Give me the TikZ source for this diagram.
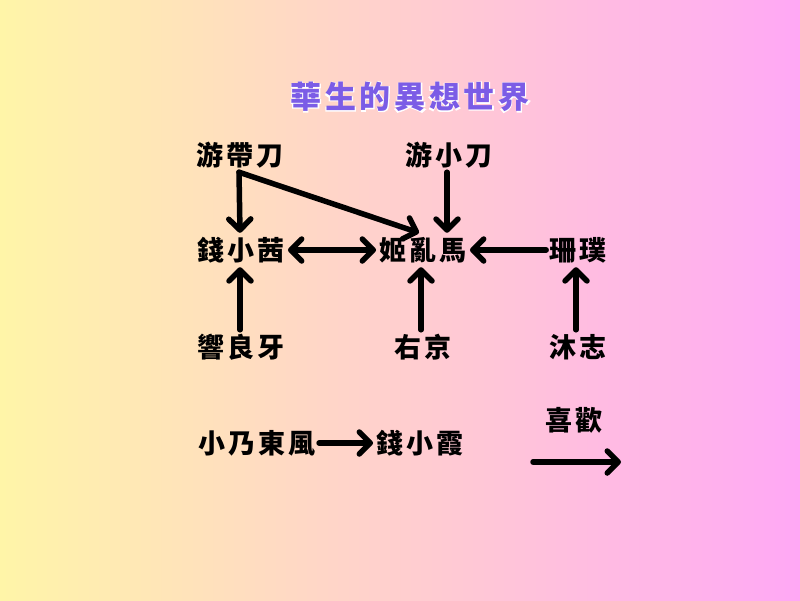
\documentclass[tikz,border=0pt]{standalone}
\usepackage{fontspec}
\usetikzlibrary{arrows.meta}
\newfontfamily\cjk[LetterSpace=12]{Noto Sans CJK TC}
\newfontfamily\cjktitle[LetterSpace=12]{Noto Sans CJK TC}
\newfontfamily\cjkhalo[LetterSpace=12,FakeBold=9]{Noto Sans CJK TC}
\definecolor{bgleft}{HTML}{FFF5A8}
\definecolor{bgright}{HTML}{FFA8F5}
\definecolor{titlecol}{HTML}{7B5CE6}
\begin{document}
\begin{tikzpicture}[x=1pt,y=-1pt,
  person/.style={font=\cjk\bfseries\fontsize{27}{30}\selectfont, inner sep=3pt, minimum height=34pt, text=black},
  tip/.tip={Straight Barb[length=11pt,width=22pt,line cap=round,line join=round]},
  rel/.style={draw=black, line width=5.5pt, line cap=round, line join=round, -tip},
  birel/.style={rel, tip-tip},
  halo/.style={font=\cjkhalo\fontsize{31}{34}\selectfont, text=white, inner sep=0pt},
  title/.style={font=\cjktitle\bfseries\fontsize{31}{34}\selectfont, text=titlecol, inner sep=0pt}]
\shade[left color=bgleft, right color=bgright] (0,0) rectangle (800,600);
\useasboundingbox (0,0) rectangle (800,600);
% title with halo
\node[halo] (halo) at (410,97) {華生的異想世界};
\node[title] (title) at (410,97) {華生的異想世界};
% people
\node[person] (ydd) at (240,155) {游帶刀};
\node[person] (yxd) at (449,155) {游小刀};
\node[person] (qxq) at (241,250) {錢小茜};
\node[person] (jlm) at (423,250) {姬亂馬};
\node[person] (sp)  at (578,250) {珊璞};
\node[person] (xly) at (241,347) {響良牙};
\node[person] (yj)  at (423,347) {右京};
\node[person] (mz)  at (578,347) {沐志};
\node[person] (xndf) at (257,443) {小乃東風};
\node[person] (qxx) at (420,443) {錢小霞};
\node[person] (xh)  at (574,420) {喜歡};
\coordinate (lgA) at (533,462);
\coordinate (lgB) at (621,462);
% relations
\draw[rel] ([xshift=-1pt]ydd.south) -- ([xshift=-1pt]qxq.north);
\draw[rel] ([xshift=-1pt]ydd.south) -- ([xshift=-4pt]jlm.north);
\draw[rel] ([xshift=-2pt]yxd.south) -- ([xshift=24pt]jlm.north);
\draw[birel] (qxq.east) -- (jlm.west);
\draw[rel] (sp.west) -- (jlm.east);
\draw[rel] ([xshift=-1pt]xly.north) -- ([xshift=-1pt]qxq.south);
\draw[rel] ([xshift=-2pt]yj.north) -- ([xshift=-2pt]jlm.south);
\draw[rel] ([xshift=-2pt]mz.north) -- ([xshift=-2pt]sp.south);
\draw[rel] (xndf.east) -- (qxx.west);
\draw[rel] (lgA) -- (lgB);
\end{tikzpicture}
\end{document}
